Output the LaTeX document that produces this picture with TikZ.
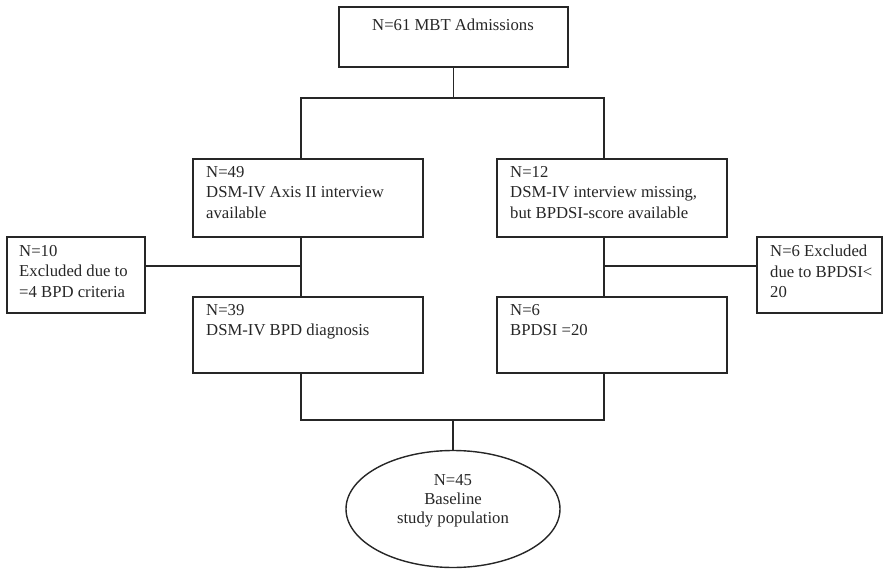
\documentclass[tikz,border=0pt]{standalone}
\usepackage{fontspec}
\setmainfont{Liberation Serif}
\usetikzlibrary{shapes.geometric}
\begin{document}
\begin{tikzpicture}[x=1pt,y=-1pt,
  line/.style={draw=black!85, line width=1.4pt},
  boxframe/.style={line, rectangle, inner sep=0pt},
  txt/.style={anchor=north west, inner sep=0pt, align=left, font=\fontsize{16.7}{20.5}\selectfont, text=black!85},
  ctxt/.style={inner sep=0pt, align=center, font=\fontsize{16.7}{19}\selectfont, text=black!85}]
\useasboundingbox (0,0) rectangle (886,569);
% boxes
\node[boxframe, minimum width=229pt, minimum height=60pt] (top) at (453.5,37) {};
\node[boxframe, minimum width=230pt, minimum height=78pt] (b49) at (308,198) {};
\node[boxframe, minimum width=230pt, minimum height=78pt] (b12) at (612,198) {};
\node[boxframe, minimum width=138pt, minimum height=76pt] (b10) at (76,275) {};
\node[boxframe, minimum width=125pt, minimum height=76pt] (bex6) at (819.5,275) {};
\node[boxframe, minimum width=230pt, minimum height=76pt] (b39) at (308,335) {};
\node[boxframe, minimum width=230pt, minimum height=76pt] (b6) at (612,335) {};
\node[line, ellipse, minimum width=214pt, minimum height=117pt, inner sep=0pt] (pop) at (453,509) {};
% texts
\node[ctxt, anchor=center] (ttop) at (453,25) {N=61 MBT Admissions};
\node[txt] (t49) at (206,166) {N=49\\DSM-IV Axis II interview\\available};
\node[txt] (t12) at (510,166) {N=12\\DSM-IV interview missing,\\but BPDSI-score available};
\node[txt] (t10) at (19,245) {N=10\\Excluded due to\\=4 BPD criteria};
\node[txt] (tex6) at (770,245) {N=6 Excluded\\due to BPDSI<\\20};
\node[txt] (t39) at (206,304) {N=39\\DSM-IV BPD diagnosis};
\node[txt] (t6) at (510,304) {N=6\\BPDSI =20};
\node[ctxt] (tpop) at (453,501) {N=45\\Baseline\\study population};
% junctions
\coordinate (jL) at (301,98);
\coordinate (jR) at (604,98);
\coordinate (jML) at (301,266);
\coordinate (jMR) at (604,266);
\coordinate (jBL) at (301,420);
\coordinate (jBR) at (604,420);
\coordinate (jBC) at (453,420);
% connectors
\draw[line] (top.south) -- (top.south |- jL);
\draw[line] (b49.north -| jL) -- (jL) -- (jR) -- (b12.north -| jR);
\draw[line] (b49.south -| jL) -- (b39.north -| jL);
\draw[line] (jML) -- (jML -| b10.east);
\draw[line] (b12.south -| jR) -- (b6.north -| jR);
\draw[line] (jMR) -- (jMR -| bex6.west);
\draw[line] (b39.south -| jBL) -- (jBL) -- (jBR) -- (b6.south -| jBR);
\draw[line] (jBC) -- (pop.north);
\end{tikzpicture}
\end{document}
